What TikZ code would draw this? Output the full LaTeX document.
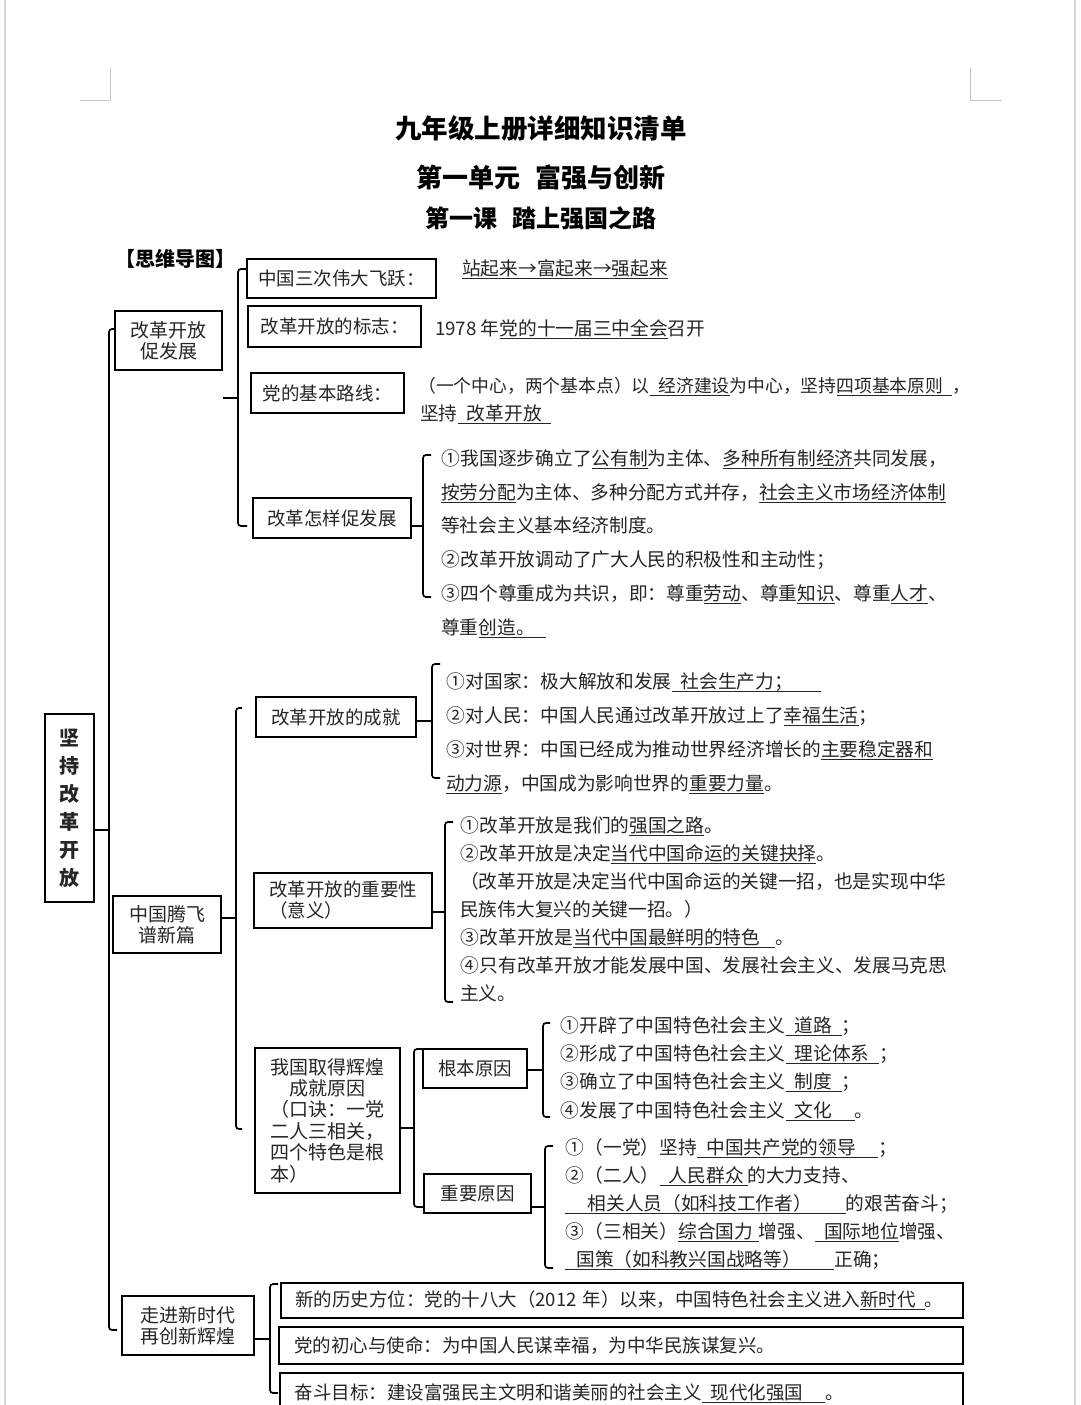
\documentclass[tikz,border=0pt]{standalone}
\usepackage{fontspec}
\setmainfont{Noto Sans CJK SC}
\usetikzlibrary{positioning}
\newcommand{\uln}[1]{\setbox0=\hbox{#1}\rlap{\rule[-3.5pt]{\wd0}{0.8pt}}\box0}
\newcommand{\circnum}[1]{\makebox[1.05em][l]{#1}}
\tikzset{
	box/.style={draw, line width=1.6pt, inner sep=0pt, align=center, text=black!85,
		font=\fontsize{18.5}{21}\selectfont},
	bigbox/.style={box, font=\fontsize{19}{21.4}\selectfont},
	wide/.style={box, align=left, text width=654pt},
	txt/.style={anchor=base west, inner sep=0pt, text=black!85,
		font=\fontsize{18.7}{22}\selectfont},
	link/.style={line width=1.7pt, rounded corners=3pt},
	cornermark/.style={gray!45, line width=1pt}
}

\begin{document}
\begin{tikzpicture}[x=1pt, y=-1pt]  % pixel grid, y grows downwards

\useasboundingbox (0,0) rectangle (1080,1405);
\fill[white] (0,0) rectangle (1080,1405);

% page edges and corner marks
\draw[gray!30, line width=1.5pt] (5,0) -- (5,1405);
\draw[gray!30, line width=1.5pt] (1075,0) -- (1075,1405);
\draw[cornermark] (80,100) -- (110,100) -- (110,68);
\draw[cornermark] (1002,100) -- (970,100) -- (970,68);

% titles
\node[inner sep=0pt, font=\bfseries\fontsize{26.5}{30}\selectfont] (ttl1) at (541,128) {九年级上册详细知识清单};
\node[inner sep=0pt, font=\bfseries\fontsize{26}{30}\selectfont] (ttl2) at (541,178) {第一单元\hspace{0.6em}富强与创新};
\node[inner sep=0pt, font=\bfseries\fontsize{24}{28}\selectfont] (ttl3) at (541,218) {第一课\hspace{0.6em}踏上强国之路};
\node[inner sep=0pt, font=\bfseries\fontsize{20}{24}\selectfont] (mind) at (175,259) {【思维导图】};

% root and first level
\node[box, minimum width=49pt, minimum height=188pt, font=\bfseries\fontsize{20}{28}\selectfont]
	(rt) at (69.5,808) {坚\\持\\改\\革\\开\\放};
\node[bigbox, minimum width=107pt, minimum height=59pt] (c1) at (168.5,340.5) {改革开放\\促发展};
\node[bigbox, minimum width=108pt, minimum height=57pt] (c2) at (167,924.5) {中国腾飞\\谱新篇};
\node[bigbox, minimum width=132pt, minimum height=59pt] (c3) at (188,1325.5) {走进新时代\\再创新辉煌};

% second level
\node[box, minimum width=189pt, minimum height=39pt] (b11) at (341.5,278.5) {中国三次伟大飞跃：};
\node[box, minimum width=173pt, minimum height=41pt] (b12) at (334.5,326.5) {改革开放的标志：};
\node[box, minimum width=153pt, minimum height=40pt] (b13) at (327.5,393) {党的基本路线：};
\node[box, minimum width=158pt, minimum height=40pt] (b14) at (332,518) {改革怎样促发展};
\node[box, minimum width=160pt, minimum height=40pt] (b21) at (336,717) {改革开放的成就};
\node[box, minimum width=178pt, minimum height=55pt, align=left] (b22) at (343,900.5) {改革开放的重要性\\（意义）};
\node[bigbox, minimum width=145pt, minimum height=145pt] (b23) at (327.5,1120.5)
	{我国取得辉煌\\成就原因\\（口诀：一党\\二人三相关，\\四个特色是根\\\makebox[6em][l]{本）}};
\node[box, minimum width=104pt, minimum height=39pt] (b31) at (475,1068.5) {根本原因};
\node[box, minimum width=107pt, minimum height=39pt] (b32) at (477.5,1193.5) {重要原因};

% third level boxes
\node[wide, minimum width=682pt, minimum height=35pt] (d1) at (622,1300.5)
	{新的历史方位：党的十八大（2012 年）以来，中国特色社会主义进入\uln{新时代\hspace{0.5em}}。};
\node[wide, minimum width=684pt, minimum height=37pt] (d2) at (621,1345.5)
	{党的初心与使命：为中国人民谋幸福，为中华民族谋复兴。};
\node[wide, minimum width=683pt, minimum height=40pt] (d3) at (621.5,1393)
	{奋斗目标：建设富强民主文明和谐美丽的社会主义\uln{\hspace{0.5em}现代化强国\hspace{1.2em}}。};

% trunk
\coordinate (k0) at (109,0);
\draw[link] (c1.west |- 0,329) -- (k0 |- 0,329) -- (k0 |- 0,1330) -- ++(8,0);
\draw[link] (rt.east |- 0,830) -- (k0 |- 0,830);

% bracket of c1
\coordinate (k1) at (238,0);
\draw[link] (b11.west |- 0,269) -- (k1 |- 0,269) -- (k1 |- 0,526) -- ++(9,0);
\draw[link] (c1.east |- 0,398) -- (k1 |- 0,398);

% bracket of c2
\coordinate (k2) at (236,0);
\draw[link] (k2 |- 0,708) ++(6,0) -- ++(-6,0) -- (k2 |- 0,1129) -- ++(6,0);
\draw[link] (c2.east |- 0,918) -- (k2 |- 0,918);

% bracket of c3
\coordinate (k3) at (270,0);
\draw[link] (k3 |- 0,1284) ++(8,0) -- ++(-8,0) -- (k3 |- 0,1393) -- ++(8,0);
\draw[link] (c3.east |- 0,1339) -- (k3 |- 0,1339);

% bracket of b14
\coordinate (k14) at (423,0);
\draw[link] (k14 |- 0,455) ++(8,0) -- ++(-8,0) -- (k14 |- 0,597) -- ++(8,0);
\draw[link] (b14.east |- 0,526) -- (k14 |- 0,526);

% bracket of b21
\coordinate (k21) at (432,0);
\draw[link] (k21 |- 0,664) ++(8,0) -- ++(-8,0) -- (k21 |- 0,778) -- ++(8,0);
\draw[link] (b21.east |- 0,721) -- (k21 |- 0,721);

% bracket of b22
\coordinate (k22) at (445,0);
\draw[link] (k22 |- 0,822) ++(8,0) -- ++(-8,0) -- (k22 |- 0,1002) -- ++(8,0);
\draw[link, line width=2.6pt] (b22.east |- 0,912) -- (k22 |- 0,912);

% bracket of b23
\coordinate (k23) at (414,0);
\draw[link] (b31.west |- 0,1049) -- (k23 |- 0,1049) -- (k23 |- 0,1207) -- (b32.west |- 0,1207);
\draw[link] (b23.east |- 0,1128) -- (k23 |- 0,1128);

% bracket of b31
\coordinate (k31) at (543,0);
\draw[link] (k31 |- 0,1023) ++(7,0) -- ++(-7,0) -- (k31 |- 0,1117) -- ++(7,0);
\draw[link] (b31.east |- 0,1070) -- (k31 |- 0,1070);

% bracket of b32
\coordinate (k32) at (545,0);
\draw[link] (k32 |- 0,1146) ++(8,0) -- ++(-8,0) -- (k32 |- 0,1268) -- ++(8,0);
\draw[link] (b32.east |- 0,1207) -- (k32 |- 0,1207);

% answers of c1
\node[txt] (t1) at (462,275) {\uln{站起来→富起来→强起来}};
\node[txt] (t2) at (435,335) {1978 年\uln{党的十一届三中全会}召开};
\node[txt, font=\fontsize{17.8}{22}\selectfont] (t3a) at (418,392)
	{（一个中心，两个基本点）以\uln{\hspace{0.5em}经济建设}为中心，坚持\uln{四项基本原则\hspace{0.5em}}，};
\node[txt] (t3b) at (420,420) {坚持\uln{\hspace{0.5em}改革开放\hspace{0.5em}}};

\node[txt] (p1) at (441,465) {\circnum{①}我国逐步确立了\uln{公有制}为主体、\uln{多种所有制经济}共同发展，};
\node[txt] (p2) at (441,499) {\uln{按劳分配}为主体、多种分配方式并存，\uln{社会主义市场经济体制}};
\node[txt] (p3) at (441,532) {等社会主义基本经济制度。};
\node[txt] (p4) at (441,566) {\circnum{②}改革开放调动了广大人民的积极性和主动性；};
\node[txt] (p5) at (441,600) {\circnum{③}四个尊重成为共识，即：尊重\uln{劳动}、尊重\uln{知识}、尊重\uln{人才}、};
\node[txt] (p6) at (441,634) {尊重\uln{创造。\hspace{0.6em}}};

% answers of c2
\node[txt] (q1) at (446,688) {\circnum{①}对国家：极大解放和发展\uln{\hspace{0.5em}社会生产力；\hspace{1.5em}}};
\node[txt] (q2) at (446,722) {\circnum{②}对人民：中国人民通过改革开放过上了\uln{幸福生活}；};
\node[txt] (q3) at (446,756) {\circnum{③}对世界：中国已经成为推动世界经济增长的\uln{主要稳定器和}};
\node[txt] (q4) at (446,790) {\uln{动力源}，中国成为影响世界的\uln{重要力量}。};

\node[txt] (r1) at (460,832) {\circnum{①}改革开放是我们的\uln{强国之路}。};
\node[txt] (r2) at (460,860) {\circnum{②}改革开放是决定\uln{当代中国命运的关键抉择}。};
\node[txt] (r3) at (460,888) {（改革开放是决定当代中国命运的关键一招，也是实现中华};
\node[txt] (r4) at (460,916) {民族伟大复兴的关键一招。）};
\node[txt] (r5) at (460,944) {\circnum{③}改革开放是\uln{当代中国最鲜明的特色\hspace{0.8em}}。};
\node[txt] (r6) at (460,972) {\circnum{④}只有改革开放才能发展中国、发展社会主义、发展马克思};
\node[txt] (r7) at (460,1000) {主义。};

\node[txt] (s1) at (560,1032) {\circnum{①}开辟了中国特色社会主义\uln{\hspace{0.5em}道路\hspace{0.5em}}；};
\node[txt] (s2) at (560,1060) {\circnum{②}形成了中国特色社会主义\uln{\hspace{0.5em}理论体系\hspace{0.5em}}；};
\node[txt] (s3) at (560,1088) {\circnum{③}确立了中国特色社会主义\uln{\hspace{0.5em}制度\hspace{0.5em}}；};
\node[txt] (s4) at (560,1117) {\circnum{④}发展了中国特色社会主义\uln{\hspace{0.5em}文化\hspace{1.2em}}。};

\node[txt] (u1) at (565,1154) {\circnum{①}（一党）坚持\uln{\hspace{0.5em}中国共产党的领导\hspace{1.2em}}；};
\node[txt] (u2) at (565,1182) {\circnum{②}（二人）\uln{\hspace{0.5em}人民群众\hspace{0.2em}}的大力支持、};
\node[txt] (u3) at (565,1210) {\uln{\hspace{1.2em}相关人员（如科技工作者）\hspace{1.8em}}的艰苦奋斗；};
\node[txt] (u4) at (565,1238) {\circnum{③}（三相关）\uln{综合国力\hspace{0.3em}}增强、\uln{\hspace{0.5em}国际地位}增强、};
\node[txt] (u5) at (565,1266) {\uln{\hspace{0.6em}国策（如科教兴国战略等）\hspace{1.8em}}正确；};

\end{tikzpicture}
\end{document}
